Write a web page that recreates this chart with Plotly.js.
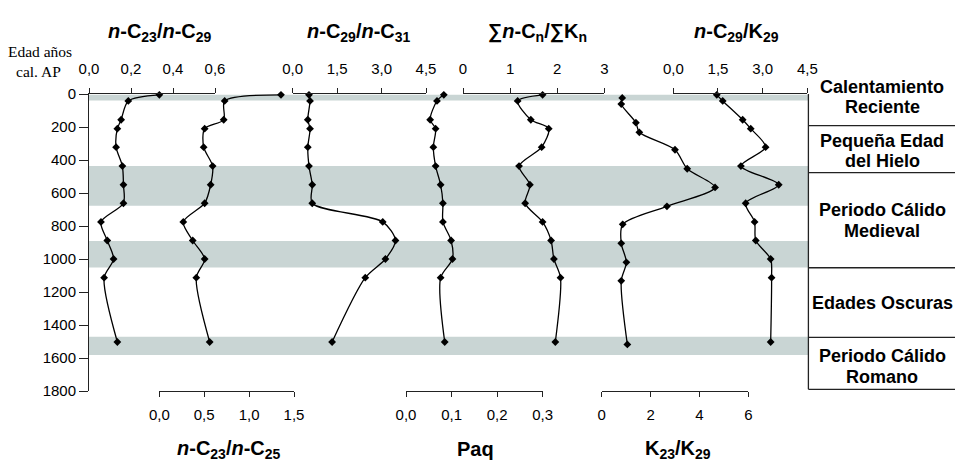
<!DOCTYPE html>
<html>
<head>
<meta charset="utf-8">
<script src="https://cdn.plot.ly/plotly-3.0.1.min.js"></script>
<style>html,body{margin:0;padding:0;background:#fff;}#chart{width:955px;height:463px;}</style>
</head>
<body>
<div id="chart"></div>
<script>
// ---- data ----
const ages   = [5, 42, 156, 210, 322, 437, 550, 662, 775, 888, 1000, 1113, 1503];
const agesK  = [24, 61, 174, 232, 338, 453, 566, 681, 790, 905, 1020, 1132, 1518];
const c23c29 = [0.335, 0.187, 0.153, 0.135, 0.129, 0.159, 0.164, 0.164, 0.057, 0.087, 0.117, 0.072, 0.135];
const c23c25 = [1.355, 0.728, 0.717, 0.505, 0.494, 0.594, 0.572, 0.505, 0.267, 0.372, 0.505, 0.412, 0.561];
const c29c31 = [0.55, 0.585, 0.51, 0.585, 0.51, 0.55, 0.66, 0.66, 3.04, 3.47, 3.13, 2.45, 1.33];
const paq    = [0.083, 0.068, 0.053, 0.065, 0.060, 0.065, 0.076, 0.081, 0.081, 0.099, 0.102, 0.076, 0.085];
const sumCK  = [1.69, 1.16, 1.44, 1.82, 1.67, 1.19, 1.42, 1.32, 1.69, 1.87, 1.93, 2.07, 1.96];
const k23k29 = [0.84, 0.80, 1.40, 1.54, 3.00, 3.50, 4.64, 2.67, 0.86, 0.80, 1.01, 0.80, 1.05];
const c29k29 = [1.46, 1.66, 2.33, 2.60, 3.10, 2.27, 3.54, 2.43, 2.73, 2.77, 3.27, 3.30, 3.27];

const ageTicks = [0, 200, 400, 600, 800, 1000, 1200, 1400, 1600, 1800];
const tickVals1 = [0, 0.2, 0.4, 0.6];   const tickText1 = ['0,0', '0,2', '0,4', '0,6'];
const tickVals2 = [0, 1.5, 3, 4.5];     const tickText2 = ['0,0', '1,5', '3,0', '4,5'];
const tickVals3 = [0, 1, 2, 3];         const tickText3 = ['0', '1', '2', '3'];
const tickVals4 = [0, 1.5, 3, 4.5];     const tickText4 = ['0,0', '1,5', '3,0', '4,5'];
const tickVals5 = [0, 0.5, 1, 1.5];     const tickText5 = ['0,0', '0,5', '1,0', '1,5'];
const tickVals6 = [0, 0.1, 0.2, 0.3];   const tickText6 = ['0,0', '0,1', '0,2', '0,3'];
const tickVals7 = [0, 2, 4, 6];         const tickText7 = ['0', '2', '4', '6'];

const bands = [[5, 40], [437, 677], [891, 1052], [1471, 1582]];
const periodEdges = [192, 477, 1053, 1475, 1790];
const periodLabels = [
  ['Calentamiento', 'Reciente'],
  ['Pequeña Edad', 'del Hielo'],
  ['Periodo Cálido', 'Medieval'],
  ['Edades Oscuras'],
  ['Periodo Cálido', 'Romano']
];
const periodLineY = [[87, 107], [140.5, 161], [210, 230.5], [303.3], [356, 377]];

const topTitles = ['<b><i>n</i>-C<sub>23</sub>/<i>n</i>-C<sub>29</sub></b>',
                   '<b><i>n</i>-C<sub>29</sub>/<i>n</i>-C<sub>31</sub></b>',
                   '<b>∑<i>n</i>-C<sub>n</sub>/∑K<sub>n</sub></b>',
                   '<b><i>n</i>-C<sub>29</sub>/K<sub>29</sub></b>'];
const bottomTitles = ['<b><i>n</i>-C<sub>23</sub>/<i>n</i>-C<sub>25</sub></b>',
                      '<b>Paq</b>',
                      '<b>K<sub>23</sub>/K<sub>29</sub></b>'];

// ---- layout geometry (pixels) ----
const W = 955, H = 463, L = 89, R = 808, T = 94, B = 391;
const px2x = p => (p - L) / (R - L);
const px2y = p => (B - p) / (B - T);
const FONT = 'Liberation Sans, Arial, sans-serif';
const LINE = '#222';

const series = [
  {x: c23c29, y: ages,  ax: 'x',  side: 'top',    dom: [88, 215],     range: [0, 0.6], tv: tickVals1, tt: tickText1},
  {x: c29c31, y: ages,  ax: 'x2', side: 'top',    dom: [292.7, 426],  range: [0, 4.5], tv: tickVals2, tt: tickText2},
  {x: sumCK,  y: ages,  ax: 'x3', side: 'top',    dom: [463, 604.3],  range: [0, 3],   tv: tickVals3, tt: tickText3},
  {x: c29k29, y: ages,  ax: 'x4', side: 'top',    dom: [673.3, 807.3],range: [0, 4.5], tv: tickVals4, tt: tickText4},
  {x: c23c25, y: ages,  ax: 'x5', side: 'bottom', dom: [159.3, 294],  range: [0, 1.5], tv: tickVals5, tt: tickText5},
  {x: paq,    y: ages,  ax: 'x6', side: 'bottom', dom: [406, 542.7],  range: [0, 0.3], tv: tickVals6, tt: tickText6},
  {x: k23k29, y: agesK, ax: 'x7', side: 'bottom', dom: [601.7, 748.3],range: [0, 6],   tv: tickVals7, tt: tickText7}
];

const traces = series.map(s => ({
  type: 'scatter', mode: 'lines+markers', x: s.x, y: s.y,
  xaxis: s.ax, yaxis: 'y', cliponaxis: false, showlegend: false,
  line: {color: '#000', width: 1.3, shape: 'spline', smoothing: 0.8},
  marker: {symbol: 'diamond', size: 6, color: '#000'}
}));

const layout = {
  width: W, height: H,
  margin: {l: L, r: W - R, t: T, b: H - B, pad: 0},
  paper_bgcolor: '#fff', plot_bgcolor: 'rgba(0,0,0,0)',
  showlegend: false,
  font: {family: FONT, color: '#000', size: 14},
  yaxis: {
    domain: [0, 1], range: [1800, 0], anchor: 'x',
    tickvals: ageTicks, ticktext: ageTicks.map(String),
    ticks: 'outside', ticklen: 9, tickwidth: 1, tickcolor: LINE,
    showline: true, linecolor: LINE, linewidth: 1,
    showgrid: false, zeroline: false,
    tickfont: {family: FONT, size: 15, color: '#000'}
  },
  shapes: [], annotations: []
};

series.forEach(s => {
  const key = s.ax === 'x' ? 'xaxis' : 'xaxis' + s.ax.slice(1);
  layout[key] = {
    domain: [Math.max(0, px2x(s.dom[0])), Math.min(1, px2x(s.dom[1]))],
    range: s.range, anchor: 'y', side: s.side,
    tickvals: s.tv, ticktext: s.tt,
    ticks: 'outside', ticklen: 5, tickwidth: 1, tickcolor: LINE,
    showline: true, linecolor: LINE, linewidth: 1,
    showgrid: false, zeroline: false, fixedrange: true,
    ticklabelstandoff: s.side === 'top' ? 8 : 5,
    tickfont: {family: FONT, size: 15, color: '#000'}
  };
});

// grey bands
bands.forEach(b => layout.shapes.push({
  type: 'rect', xref: 'paper', yref: 'y', x0: 0, x1: 1, y0: b[0], y1: b[1],
  fillcolor: '#C9D5D4', line: {width: 0}, layer: 'below'
}));
// period box
const boxX = px2x(808.4);
layout.shapes.push({type: 'line', xref: 'paper', yref: 'y', x0: boxX, x1: boxX, y0: -18, y1: periodEdges[periodEdges.length - 1],
  line: {color: LINE, width: 1.3}});
periodEdges.forEach(e => layout.shapes.push({
  type: 'line', xref: 'paper', yref: 'y', x0: boxX, x1: px2x(W + 5), y0: e, y1: e,
  line: {color: LINE, width: 1.3}
}));
periodLabels.forEach((lines, i) => lines.forEach((t, j) => layout.annotations.push({
  text: '<b>' + t + '</b>', xref: 'paper', yref: 'paper',
  x: px2x(882), y: px2y(periodLineY[i][j]), xanchor: 'center', yanchor: 'middle',
  showarrow: false, font: {family: FONT, size: 18, color: '#000'}
})));

// axis titles
const topTitleX = [160, 359, 537.5, 736];
topTitles.forEach((t, i) => layout.annotations.push({
  text: t, xref: 'paper', yref: 'paper', x: px2x(topTitleX[i]), y: px2y(32),
  xanchor: 'center', yanchor: 'middle', showarrow: false,
  font: {family: FONT, size: 20, color: '#000'}
}));
const bottomTitleX = [229, 475, 677.5];
bottomTitles.forEach((t, i) => layout.annotations.push({
  text: t, xref: 'paper', yref: 'paper', x: px2x(bottomTitleX[i]), y: px2y(449),
  xanchor: 'center', yanchor: 'middle', showarrow: false,
  font: {family: FONT, size: 20, color: '#000'}
}));

// left axis title
layout.annotations.push({
  text: 'Edad años', xref: 'paper', yref: 'paper', x: px2x(74), y: px2y(52),
  xanchor: 'right', yanchor: 'middle', showarrow: false,
  font: {family: 'Liberation Serif, Times New Roman, serif', size: 15.5, color: '#000'}
});
layout.annotations.push({
  text: 'cal. AP', xref: 'paper', yref: 'paper', x: px2x(63), y: px2y(71),
  xanchor: 'right', yanchor: 'middle', showarrow: false,
  font: {family: 'Liberation Serif, Times New Roman, serif', size: 15.5, color: '#000'}
});

Plotly.newPlot('chart', traces, layout, {staticPlot: true, displayModeBar: false});
</script>
</body>
</html>
